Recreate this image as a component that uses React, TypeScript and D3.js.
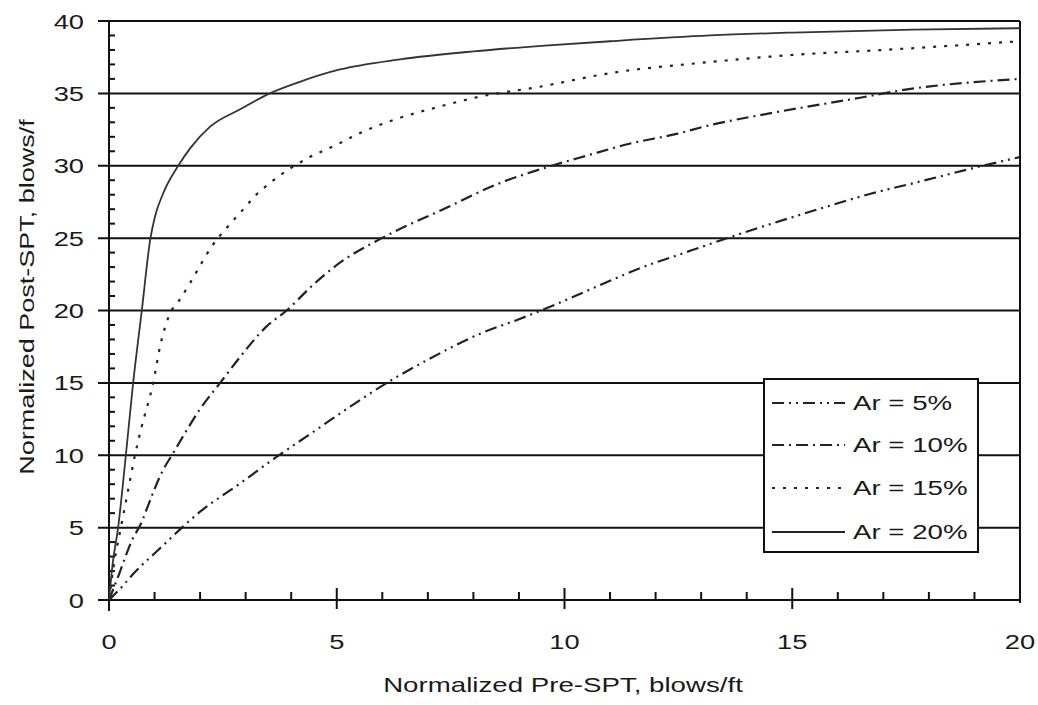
import React from "react";
import * as d3 from "d3";

// ---- data ----
const xTicks = [0, 5, 10, 15, 20];
const yTicks = [0, 5, 10, 15, 20, 25, 30, 35, 40];
const xTitle = "Normalized Pre-SPT, blows/ft";
const yTitle = "Normalized Post-SPT, blows/f";

const seriesNames = ["Ar = 5%", "Ar = 10%", "Ar = 15%", "Ar = 20%"];

const x5 = [0, 0.28, 0.5, 1.08, 2.0, 2.88, 3.64, 4.34, 5.22, 6.1, 7.0, 8.15, 9.0, 9.64, 10.67, 11.72, 12.46, 13.67, 15.68, 16.7, 17.73, 19.05, 20];
const y5 = [0, 0.9, 1.7, 3.45, 6.1, 8.06, 9.8, 11.3, 13.2, 15.0, 16.6, 18.4, 19.4, 20.2, 21.6, 23.0, 23.8, 25.1, 27.1, 28.05, 28.85, 29.9, 30.6];

const x10 = [0, 0.24, 0.35, 0.5, 0.72, 0.83, 1.19, 1.38, 1.7, 2.0, 2.44, 2.88, 3.46, 3.9, 4.49, 5.07, 5.99, 7.41, 8.5, 9.72, 10.49, 11.4, 12.46, 13.19, 14.47, 16.49, 17.37, 20];
const y10 = [0, 1.95, 2.9, 4.1, 5.4, 6.3, 9.0, 10, 11.7, 13.2, 15, 16.8, 18.9, 20, 21.8, 23.3, 25, 27.1, 28.7, 30, 30.7, 31.5, 32.2, 32.8, 33.6, 34.7, 35.2, 36.0];

const x15 = [0, 0.1, 0.26, 0.42, 0.57, 0.72, 0.97, 1.12, 1.34, 1.52, 1.78, 2.0, 2.25, 2.58, 2.95, 3.2, 3.53, 3.97, 4.41, 5.03, 5.47, 6.28, 7.27, 8.03, 9.53, 11.0, 12.97, 14.99, 17.0, 20];
const y15 = [0, 2.3, 5, 7.6, 10, 12, 15, 17.5, 19.8, 20.6, 21.9, 23.1, 24.4, 25.7, 27.0, 27.9, 28.8, 29.8, 30.6, 31.5, 32.2, 33.2, 34.1, 34.7, 35.5, 36.4, 37.1, 37.65, 38.0, 38.6];

const x20 = [0, 0.08, 0.2, 0.37, 0.53, 0.72, 0.91, 1.01, 1.19, 1.52, 1.78, 2.22, 2.88, 3.53, 4.19, 5.07, 6.39, 8.0, 9.57, 11.0, 13.2, 15.0, 17.65, 20];
const y20 = [0, 2.5, 5, 10, 15, 20, 25, 26.5, 28.1, 30, 31.2, 32.7, 33.9, 35, 35.8, 36.65, 37.35, 37.9, 38.3, 38.6, 39.0, 39.2, 39.4, 39.5];

const seriesX = [x5, x10, x15, x20];
const seriesY = [y5, y10, y15, y20];

// ---- styles ----
const W = 1038;
const H = 705;
const dashes = ["12,5,2,5,2,5", "12,5,2,5", "3,8", ""];
const FONT = "'Liberation Sans', Arial, Helvetica, sans-serif";
const TXT = "#1a1a1a";
const SX = 1.3; // horizontal text stretch seen in the reference
const SXT = 1.35;

export default function App() {
  const x = d3.scaleLinear().domain([0, 20]).range([109, 1020]);
  const y = d3.scaleLinear().domain([0, 40]).range([600, 21]);

  const minorX = d3.range(0, 21).filter((v) => v % 5 !== 0);
  const minorY = d3.range(0, 41).filter((v) => v % 5 !== 0);

  const lineGen = d3
    .line<[number, number]>()
    .x((d) => x(d[0]))
    .y((d) => y(d[1]))
    .curve(d3.curveMonotoneX);

  const [x0, x1] = x.range();
  const [yb, yt] = y.range();

  const legX = 764, legY = 379, legW = 214, legH = 173;
  const legRows = [403, 445, 488, 532];

  return (
    <svg
      width={W}
      height={H}
      style={{ position: "absolute", left: 0, top: 0, background: "#fff" }}
      fontFamily={FONT}
    >
      <rect x={0} y={0} width={W} height={H} fill="#fff" />
      <defs>
        <clipPath id="plotClip">
          <rect x={x0} y={yt - 2} width={x1 - x0} height={yb - yt + 2} />
        </clipPath>
      </defs>

      {/* horizontal gridlines, extending left as outer ticks */}
      {yTicks.map((v) => (
        <line key={"g" + v} x1={98} x2={x1} y1={y(v)} y2={y(v)} stroke="#111" strokeWidth={2} />
      ))}

      {/* left axis and right border */}
      <line x1={x0} x2={x0} y1={yt} y2={611} stroke="#111" strokeWidth={2} />
      <line x1={x1} x2={x1} y1={yt} y2={603} stroke="#111" strokeWidth={2} />

      {/* y minor ticks (inside) */}
      {minorY.map((v) => (
        <line key={"my" + v} x1={x0} x2={x0 + 6} y1={y(v)} y2={y(v)} stroke="#111" strokeWidth={2} />
      ))}
      {/* x minor ticks (inside) */}
      {minorX.map((v) => (
        <line key={"mx" + v} x1={x(v)} x2={x(v)} y1={yb} y2={yb - 8} stroke="#111" strokeWidth={2} />
      ))}
      {/* x major ticks (crossing) */}
      {xTicks.filter((v) => v > 0 && v < 20).map((v) => (
        <line key={"Mx" + v} x1={x(v)} x2={x(v)} y1={yb - 12} y2={yb + 9} stroke="#111" strokeWidth={2} />
      ))}

      {/* curves */}
      <g clipPath="url(#plotClip)">
        {seriesX.map((xs, i) => (
          <path
            key={"s" + i}
            d={lineGen(xs.map((xv, j) => [xv, seriesY[i][j]] as [number, number])) || ""}
            fill="none"
            stroke={i === 3 ? "#333" : "#222"}
            strokeWidth={i === 3 ? 1.8 : 2.2}
            strokeDasharray={dashes[i] || undefined}
          />
        ))}
      </g>

      {/* y tick labels */}
      {yTicks.map((v) => (
        <g key={"yl" + v} transform={`translate(84,${y(v) + 7.5}) scale(${SX},1)`}>
          <text textAnchor="end" fontSize={21} fill={TXT}>
            {v}
          </text>
        </g>
      ))}
      {/* x tick labels */}
      {xTicks.map((v) => (
        <g key={"xl" + v} transform={`translate(${x(v)},649) scale(${SX},1)`}>
          <text textAnchor="middle" fontSize={21} fill={TXT}>
            {v}
          </text>
        </g>
      ))}

      {/* axis titles */}
      <g transform={`translate(563,692) scale(${SXT},1)`}>
        <text textAnchor="middle" fontSize={20.5} fill={TXT}>
          {xTitle}
        </text>
      </g>
      <g transform={`translate(34,297) rotate(-90) scale(${SXT},1)`}>
        <text textAnchor="middle" fontSize={20} fill={TXT}>
          {yTitle}
        </text>
      </g>

      {/* legend */}
      <rect x={legX} y={legY} width={legW} height={legH} fill="#fff" stroke="#111" strokeWidth={2} />
      {seriesNames.map((name, i) => (
        <g key={"lg" + i}>
          <line
            x1={772}
            x2={845}
            y1={legRows[i]}
            y2={legRows[i]}
            stroke="#222"
            strokeWidth={2}
            strokeDasharray={dashes[i] || undefined}
          />
          <g transform={`translate(853,${legRows[i] + 7}) scale(${SXT},1)`}>
            <text fontSize={20.5} fill={TXT}>
              {name}
            </text>
          </g>
        </g>
      ))}
    </svg>
  );
}
